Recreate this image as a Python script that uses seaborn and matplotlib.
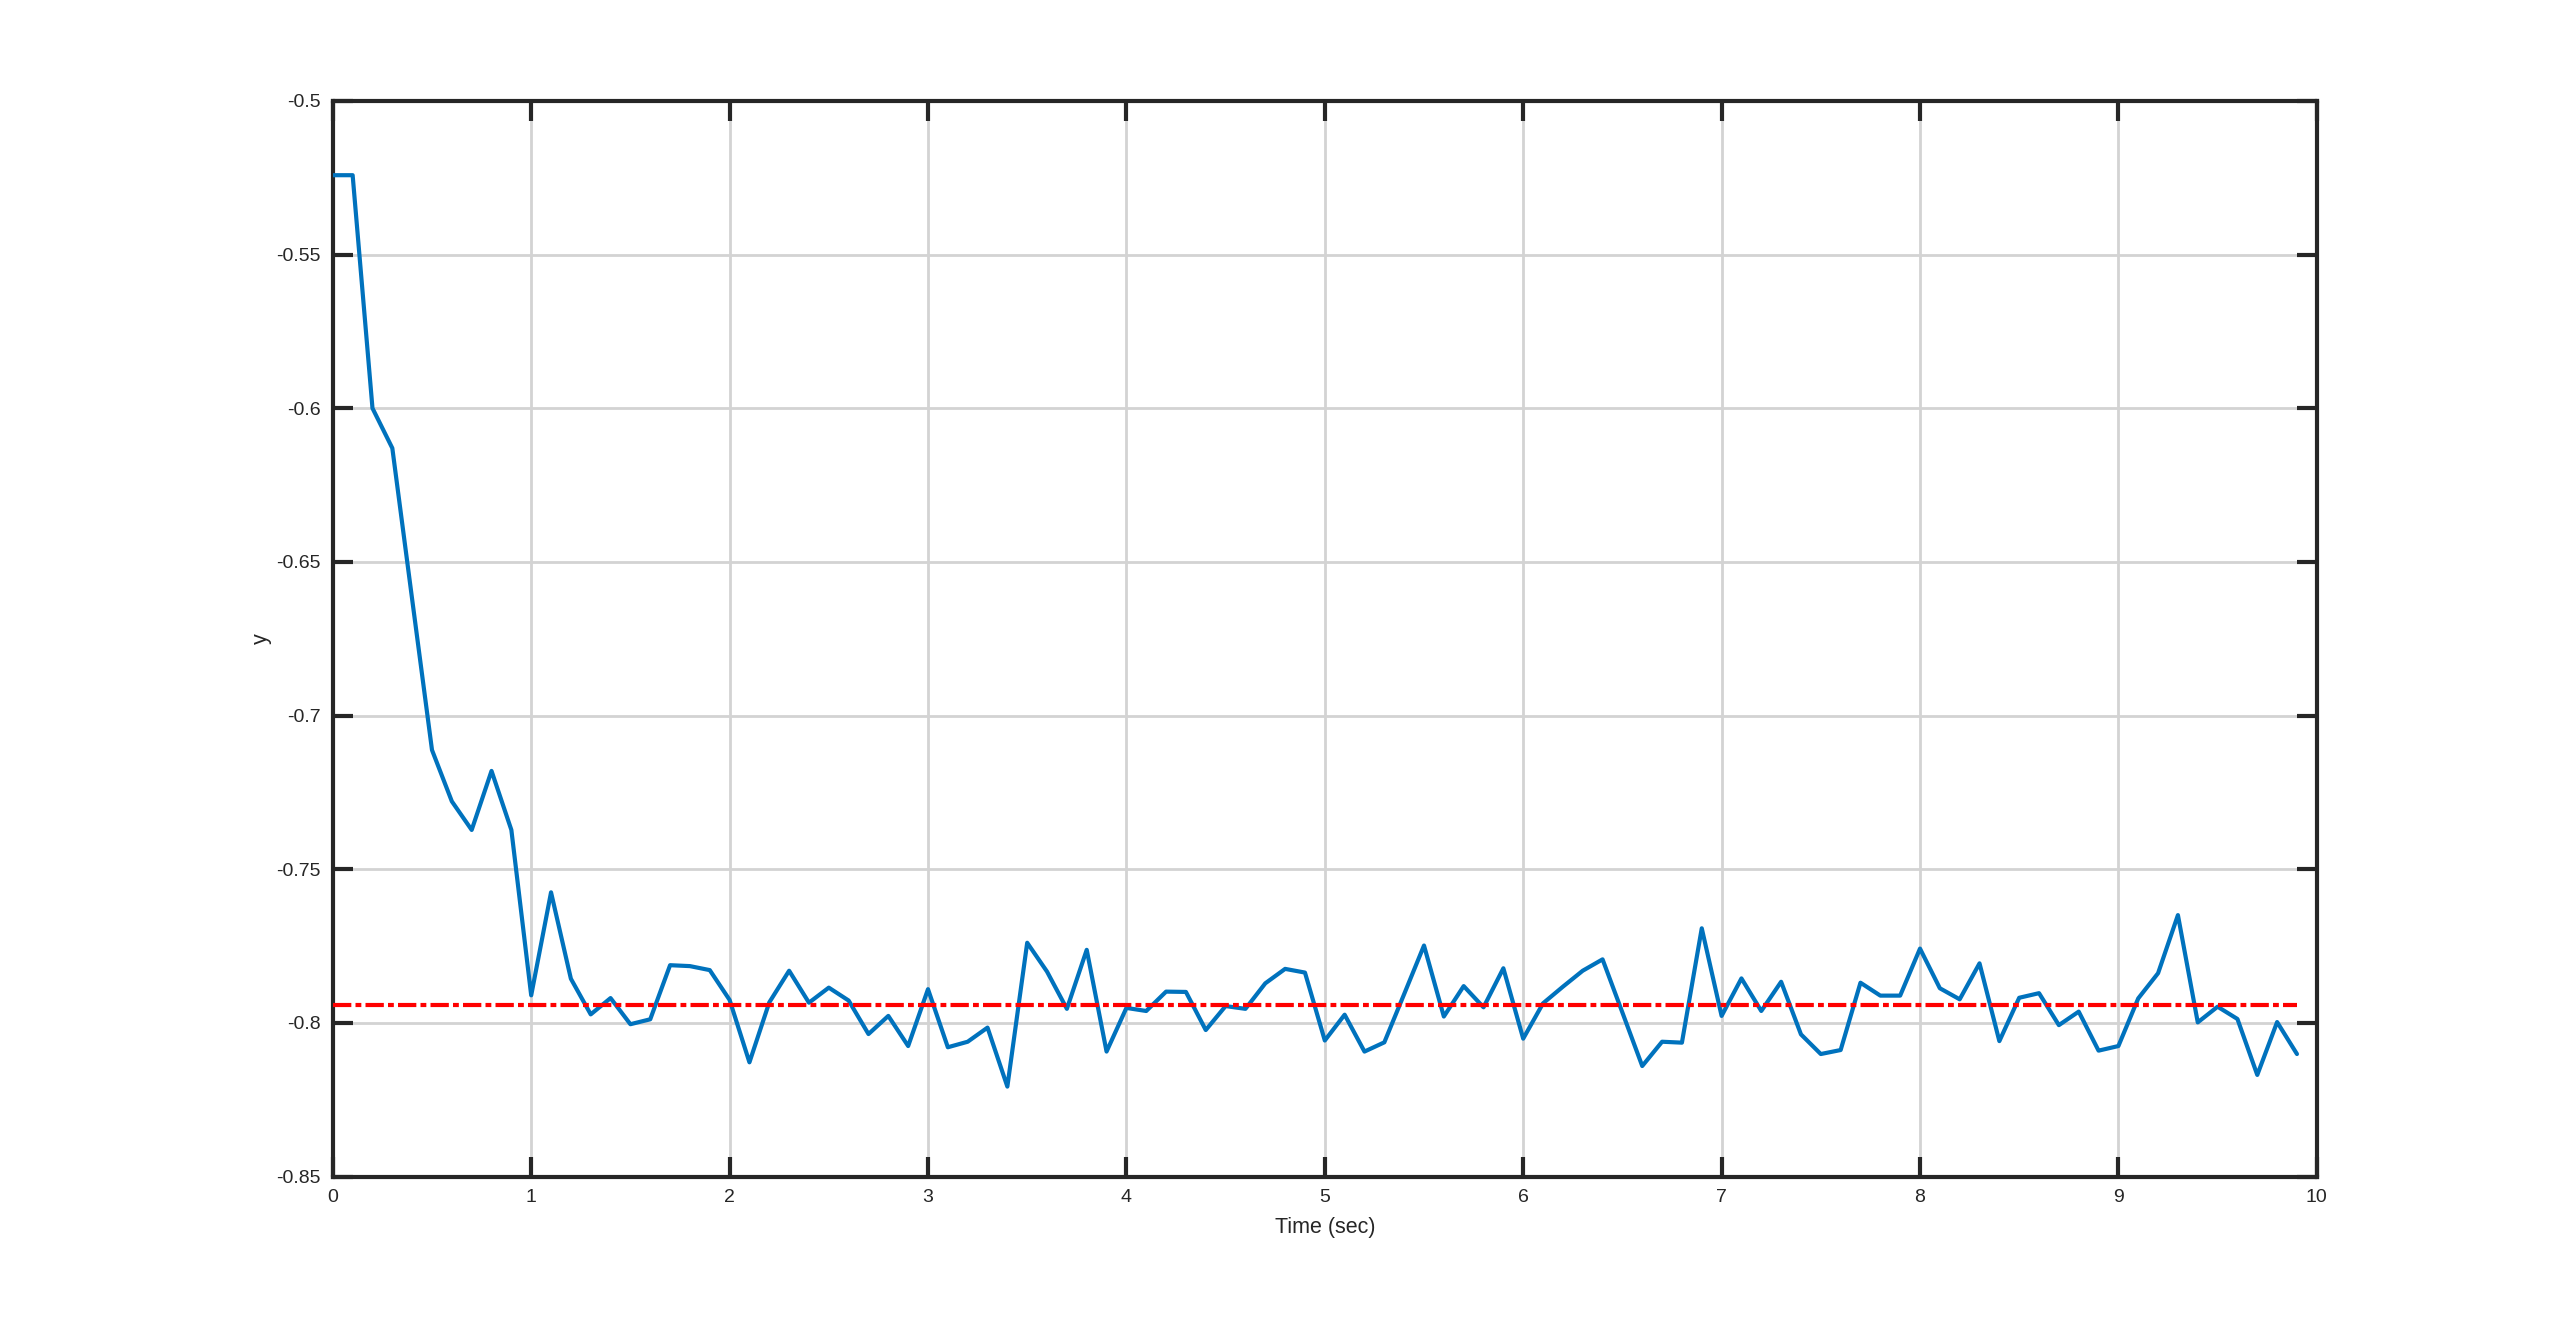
import numpy as np
import pandas as pd
import matplotlib
matplotlib.use("Agg")
import matplotlib.pyplot as plt
import seaborn as sns

# ---- data ----
time = np.round(np.arange(0, 100) * 0.1, 1)
response = [
    -0.5242, -0.5242, -0.6000, -0.6130, -0.6622, -0.7112, -0.7279, -0.7372, -0.7180, -0.7372,
    -0.7910, -0.7575, -0.7856, -0.7972, -0.7919, -0.8004, -0.7988, -0.7812, -0.7815, -0.7828,
    -0.7925, -0.8128, -0.7933, -0.7830, -0.7934, -0.7885, -0.7927, -0.8036, -0.7977, -0.8075,
    -0.7890, -0.8079, -0.8061, -0.8015, -0.8207, -0.7739, -0.7833, -0.7954, -0.7762, -0.8093,
    -0.7951, -0.7961, -0.7898, -0.7899, -0.8023, -0.7945, -0.7954, -0.7871, -0.7824, -0.7836,
    -0.8057, -0.7973, -0.8093, -0.8063, -0.7906, -0.7748, -0.7979, -0.7880, -0.7949, -0.7822,
    -0.8051, -0.7936, -0.7882, -0.7830, -0.7793, -0.7966, -0.8140, -0.8061, -0.8064, -0.7692,
    -0.7977, -0.7855, -0.7961, -0.7866, -0.8037, -0.8101, -0.8088, -0.7869, -0.7911, -0.7911,
    -0.7758, -0.7887, -0.7923, -0.7806, -0.8059, -0.7918, -0.7903, -0.8007, -0.7963, -0.8090,
    -0.8075, -0.7920, -0.7838, -0.7649, -0.7998, -0.7947, -0.7987, -0.8169, -0.7997, -0.8101,
]
reference_level = -0.794

xticks = [0, 1, 2, 3, 4, 5, 6, 7, 8, 9, 10]
xtick_labels = ["0", "1", "2", "3", "4", "5", "6", "7", "8", "9", "10"]
yticks = [-0.85, -0.8, -0.75, -0.7, -0.65, -0.6, -0.55, -0.5]
ytick_labels = ["-0.85", "-0.8", "-0.75", "-0.7", "-0.65", "-0.6", "-0.55", "-0.5"]
x_label = "Time (sec)"
y_label = "y"

df = pd.DataFrame({"t": time, "y": response, "ref": [reference_level] * len(time)})

# ---- style ----
sns.set_theme(style="white")
plt.rcParams["font.family"] = ["Liberation Sans", "DejaVu Sans"]
plt.rcParams["axes.unicode_minus"] = False

fig = plt.figure(figsize=(25.6, 13.23), dpi=100)
ax = fig.add_axes([0.13, 0.1106, 0.775, 0.8132])

ax.grid(True, color="#d3d3d3", linewidth=2)
ax.set_axisbelow(True)

sns.lineplot(data=df, x="t", y="y", color="#0072BD", linewidth=3, ax=ax,
             estimator=None, zorder=3)
sns.lineplot(data=df, x="t", y="ref", color="#FF0000", linewidth=3, ax=ax,
             estimator=None, zorder=4)
ax.lines[-1].set_dashes([4.4, 1.0, 1.4, 1.0])

ax.set_xlim(0, 10)
ax.set_ylim(-0.85, -0.5)
ax.set_xticks(xticks)
ax.set_xticklabels(xtick_labels)
ax.set_yticks(yticks)
ax.set_yticklabels(ytick_labels)

ax.tick_params(axis="both", direction="in", length=14.4, width=3,
               bottom=True, left=True, top=True, right=True,
               labelsize=14, pad=9,
               color="#262626", labelcolor="#262626")

for s in ax.spines.values():
    s.set_visible(True)
    s.set_color("#262626")
    s.set_linewidth(3)

ax.set_xlabel(x_label, fontsize=15.5, color="#262626", labelpad=8)
ax.set_ylabel(y_label, fontsize=15.5, color="#262626", labelpad=3)

fig.savefig("out.png", dpi=100, facecolor="white")
